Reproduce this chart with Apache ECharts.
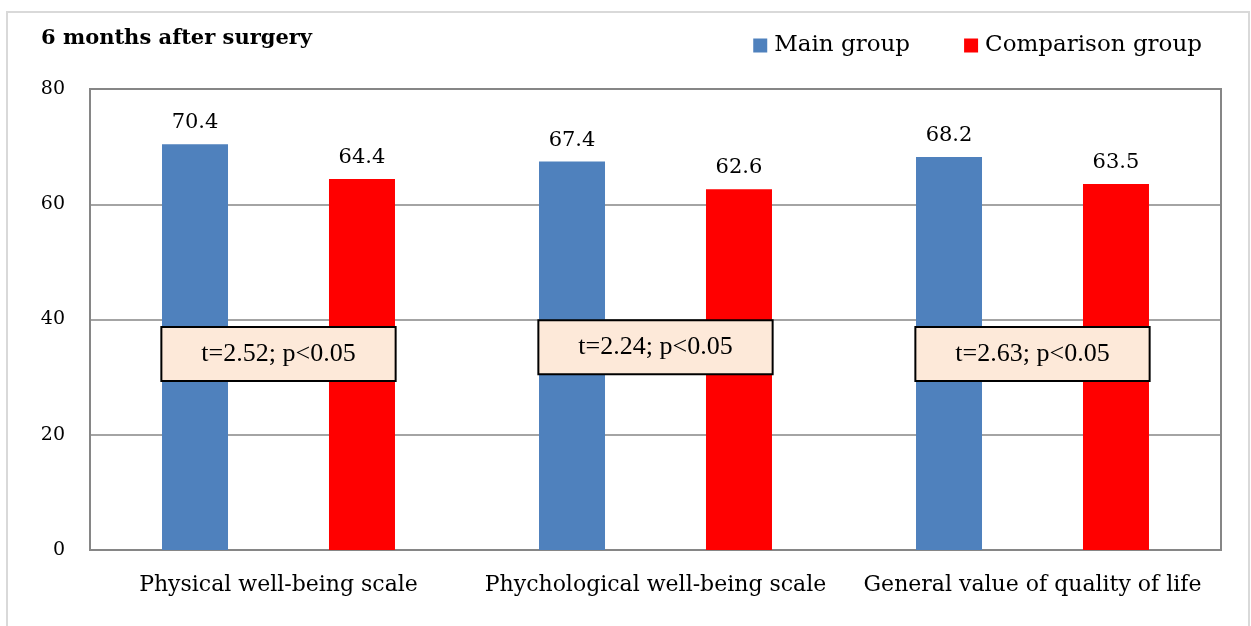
<!DOCTYPE html>
<html>
<head>
<meta charset="utf-8">
<script src="https://cdn.jsdelivr.net/npm/echarts@6/dist/echarts.min.js"></script>
<style>
  html, body { margin: 0; padding: 0; background: #fff; }
  #chart { width: 1251px; height: 626px; }
</style>
</head>
<body>
<div id="chart"></div>
<script>
// Quality-of-life scores six months after surgery
const categories = ['Physical well-being scale', 'Phychological well-being scale', 'General value of quality of life'];
const mainGroup = [70.4, 67.4, 68.2];
const comparisonGroup = [64.4, 62.6, 63.5];
const testLabels = ['t=2.52; p<0.05', 't=2.24; p<0.05', 't=2.63; p<0.05'];
const testLabelLevels = [34.0, 35.2, 34.0];
const yTicks = [0, 20, 40, 60, 80];

const slab = '"DejaVu Serif", serif';

const chart = echarts.init(document.getElementById('chart'));
chart.setOption({
  animation: false,
  backgroundColor: '#fff',
  textStyle: { fontFamily: slab },
  graphic: [{
    type: 'rect',
    shape: { x: 7, y: 12, width: 1242, height: 640 },
    style: { fill: 'none', stroke: '#d9d9d9', lineWidth: 2 },
    silent: true,
    z: -10
  }],
  title: {
    text: '6 months after surgery',
    left: 36, top: 23,
    textStyle: { fontFamily: slab, fontSize: 21, fontWeight: 'bold', color: '#000' }
  },
  legend: {
    data: ['Main group', 'Comparison group'],
    right: 44, top: 29,
    itemWidth: 14, itemHeight: 14, itemGap: 54,
    icon: 'rect',
    textStyle: { fontFamily: slab, fontSize: 23, color: '#000', padding: [0, 0, 0, 2] }
  },
  grid: {
    left: 90, top: 89, right: 30, bottom: 76,
    show: true, borderColor: '#868686', borderWidth: 2
  },
  xAxis: {
    type: 'category',
    data: categories,
    axisTick: { show: false },
    axisLine: { lineStyle: { color: '#868686', width: 2 } },
    axisLabel: { fontFamily: slab, fontSize: 22, color: '#000', margin: 24, interval: 0 }
  },
  yAxis: {
    type: 'value',
    min: yTicks[0], max: yTicks[yTicks.length - 1], interval: 20,
    axisLine: { show: false },
    axisTick: { show: false },
    splitLine: { lineStyle: { color: '#868686', width: 1.5 } },
    axisLabel: { fontFamily: slab, fontSize: 19, color: '#000', margin: 25 }
  },
  series: [
    {
      name: 'Main group', type: 'bar', data: mainGroup,
      barWidth: 66, barGap: '153%',
      itemStyle: { color: '#4f81bd' },
      label: { show: true, position: 'top', distance: 11, fontFamily: slab, fontSize: 21, color: '#000' }
    },
    {
      name: 'Comparison group', type: 'bar', data: comparisonGroup,
      barWidth: 66,
      itemStyle: { color: '#ff0000' },
      label: { show: true, position: 'top', distance: 11, fontFamily: slab, fontSize: 21, color: '#000' }
    },
    {
      // t-test result boxes, centred on each category
      name: 'test', type: 'custom',
      data: testLabelLevels.map((v, i) => [i, v]),
      z: 10,
      renderItem: (params, api) => {
        const pt = api.coord([api.value(0), api.value(1)]);
        return {
          type: 'text',
          x: pt[0], y: pt[1],
          style: {
            text: testLabels[params.dataIndex],
            font: '26px "Liberation Serif", serif',
            fill: '#000',
            align: 'center', verticalAlign: 'middle',
            backgroundColor: '#fde9d9',
            borderColor: '#000', borderWidth: 2,
            padding: [13, 39], lineHeight: 26
          }
        };
      }
    }
  ]
});
</script>
</body>
</html>
